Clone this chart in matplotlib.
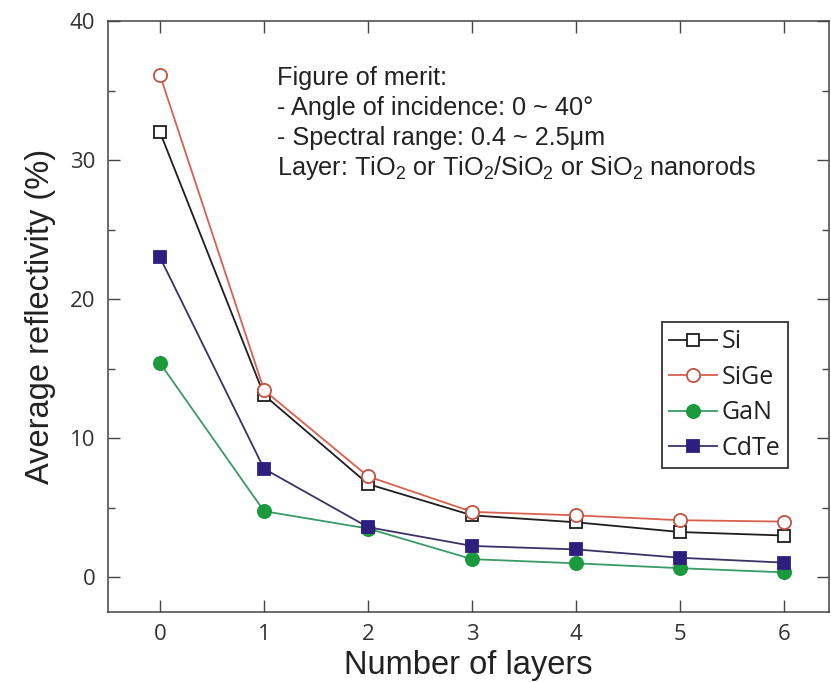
import matplotlib
matplotlib.use("Agg")
import matplotlib.pyplot as plt
from matplotlib.ticker import MultipleLocator

plt.rcParams["mathtext.fontset"] = "custom"
plt.rcParams["mathtext.rm"] = "Liberation Sans"
plt.rcParams["mathtext.it"] = "Liberation Sans:italic"

# data
layers = [0, 1, 2, 3, 4, 5, 6]
si = [32.0, 13.1, 6.7, 4.45, 3.95, 3.25, 3.0]
sige = [36.1, 13.45, 7.25, 4.7, 4.45, 4.1, 4.0]
gan = [15.4, 4.75, 3.5, 1.3, 1.0, 0.65, 0.35]
cdte = [23.0, 7.8, 3.6, 2.25, 2.0, 1.4, 1.05]

labels = ["Si", "SiGe", "GaN", "CdTe"]
x_ticks = [0, 1, 2, 3, 4, 5, 6]
y_ticks = [0, 10, 20, 30, 40]

note_lines = [
    "Figure of merit:",
    "- Angle of incidence: 0 ~ 40\u00b0",
    "- Spectral range: 0.4 ~ 2.5\u03bcm",
    "Layer: TiO$_2$ or TiO$_2$/SiO$_2$ or SiO$_2$ nanorods",
]

styles = [
    dict(color="#1e1e1e", marker="s", mfc="white", mec="#1e1e1e", ms=8.5),
    dict(color="#d8604e", marker="o", mfc="white", mec="#c4523f", ms=9.5),
    dict(color="#3a9a66", marker="o", mfc="#1a9a3c", mec="#1a9a3c", ms=9.5),
    dict(color="#3b3166", marker="s", mfc="#2c1f80", mec="#2c1f80", ms=8.5),
]

W, H = 831, 682
fig = plt.figure(figsize=(W / 100, H / 100), dpi=100)
ax = fig.add_axes([108 / W, (H - 612) / H, 721 / W, 591 / H])

for vals, lab, st in zip([si, sige, gan, cdte], labels, styles):
    ax.plot(layers, vals, linewidth=1.3, mew=1.3, label=lab, **st)

ax.set_xlim(-0.5, 6.43)
ax.set_ylim(-2.5, 40)
ax.set_xticks(x_ticks)
ax.set_yticks(y_ticks)
ax.yaxis.set_minor_locator(MultipleLocator(5))
ax.tick_params(which="both", direction="in", top=True, right=True,
               color="#444444", width=1.0, labelcolor="#333333")
ax.tick_params(which="major", length=8.5, pad=9)
ax.tick_params(which="minor", length=5)
for lab in ax.get_xticklabels() + ax.get_yticklabels():
    lab.set_fontfamily("Open Sans")
    lab.set_fontsize(16)
for sp in ax.spines.values():
    sp.set_linewidth(1.1)
    sp.set_color("#444444")

ax.set_xlabel("Number of layers", fontsize=23.5, family="Liberation Sans",
              color="#222222", labelpad=3)
ax.set_ylabel("Average reflectivity (%)", fontsize=23.5, family="Liberation Sans",
              color="#222222", labelpad=10)

note_y = [0.892, 0.841, 0.790, 0.739]
for txt, yy in zip(note_lines, note_y):
    ax.text(0.234, yy, txt, transform=ax.transAxes, fontsize=18.2,
            family="Liberation Sans", color="#222222", va="baseline", ha="left")

leg = ax.legend(loc="upper right", bbox_to_anchor=(0.943, 0.491),
                borderaxespad=0, fancybox=False, frameon=True, edgecolor="black",
                prop={"family": "Open Sans", "size": 18},
                handlelength=1.9, handletextpad=0.2, labelspacing=0.42,
                borderpad=0.3, numpoints=1)
leg.get_frame().set_linewidth(1.3)
for t in leg.get_texts():
    t.set_color("#222222")

fig.savefig("out.png", dpi=100)
